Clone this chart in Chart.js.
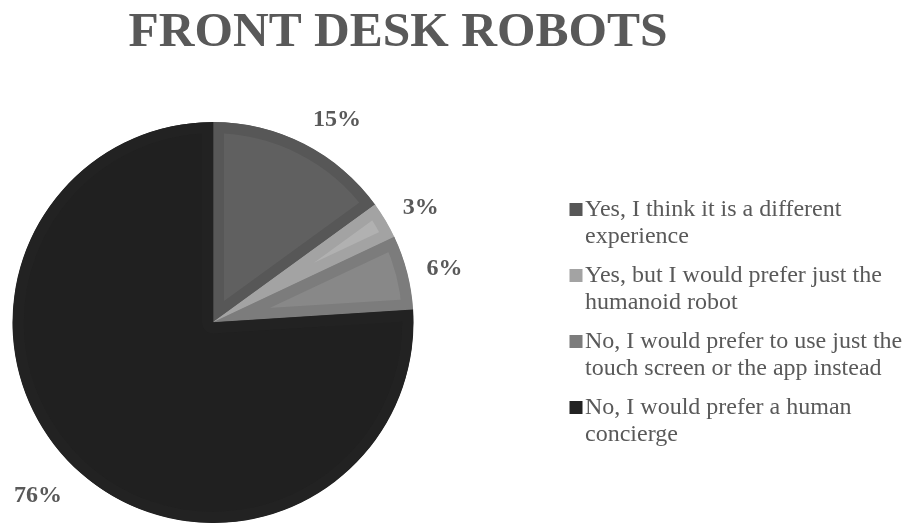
<!DOCTYPE html>
<html>
<head>
<meta charset="utf-8">
<script src="https://cdn.jsdelivr.net/npm/chart.js@4.4.1/dist/chart.umd.min.js"></script>
<style>
  html, body { margin: 0; padding: 0; background: #fff; }
  #wrap { position: relative; width: 904px; height: 523px; }
</style>
</head>
<body>
<div id="wrap"><canvas id="pieChart" width="904" height="523"></canvas></div>
<script>
// survey answers
const chartTitle = 'FRONT DESK ROBOTS';
const answers = [
  ['Yes, I think it is a different', 'experience'],
  ['Yes, but I would prefer just the', 'humanoid robot'],
  ['No, I would prefer to use just the', 'touch screen or the app instead'],
  ['No, I would prefer a human', 'concierge']
];
const shares = [15, 3, 6, 76];
const fillColors = ['#606060', '#b1b1b1', '#888888', '#202020'];
const edgeColors = ['#575757', '#a3a3a3', '#7c7c7c', '#222222'];

const textGrey = '#595959';

// title, value labels and wrapped legend drawn on top of the pie
const annotate = {
  id: 'annotate',
  afterDraw(chart) {
    const ctx = chart.ctx;
    const meta = chart.getDatasetMeta(0);
    ctx.save();

    ctx.fillStyle = textGrey;
    ctx.font = 'bold 49.5px "Liberation Serif", "Times New Roman", serif';
    ctx.textAlign = 'center';
    ctx.textBaseline = 'alphabetic';
    ctx.fillText(chartTitle, 398, 46);

    // percentage labels just outside each slice
    ctx.font = 'bold 24px "Liberation Serif", "Times New Roman", serif';
    ctx.textBaseline = 'middle';
    meta.data.forEach((arc, i) => {
      const p = arc.getProps(['x', 'y', 'startAngle', 'endAngle', 'outerRadius'], true);
      const mid = (p.startAngle + p.endAngle) / 2;
      const s = Math.cos(mid), c = -Math.sin(mid);
      const r = p.outerRadius + 20;
      const ax = p.x + r * s;
      const ay = p.y - r * c;
      const txt = chart.data.datasets[0].data[i] + '%';
      const w = ctx.measureText(txt).width;
      ctx.fillText(txt, ax + Math.sign(s) * w / 2, ay - c * 12 + 4);
    });

    // legend
    ctx.font = '24px "Liberation Serif", "Times New Roman", serif';
    ctx.textAlign = 'left';
    ctx.textBaseline = 'alphabetic';
    chart.data.labels.forEach((lines, i) => {
      const base = 216 + i * 66;
      ctx.fillStyle = edgeColors[i];
      ctx.fillRect(569.5, base - 13, 13, 13);
      ctx.fillStyle = textGrey;
      lines.forEach((line, k) => ctx.fillText(line, 585, base + k * 27.3));
    });

    ctx.restore();
  }
};

const ctx = document.getElementById('pieChart').getContext('2d');
const pieChart = new Chart(ctx, {
  type: 'pie',
  data: {
    labels: answers,
    datasets: [{
      data: shares,
      backgroundColor: fillColors,
      borderColor: edgeColors,
      borderWidth: 11,
      borderAlign: 'inner'
    }]
  },
  options: {
    responsive: false,
    animation: false,
    rotation: 0,
    layout: { padding: { left: 12, right: 490, top: 122, bottom: 0 } },
    plugins: {
      legend: { display: false },
      title: { display: false },
      tooltip: { enabled: false }
    }
  },
  plugins: [annotate]
});
</script>
</body>
</html>
